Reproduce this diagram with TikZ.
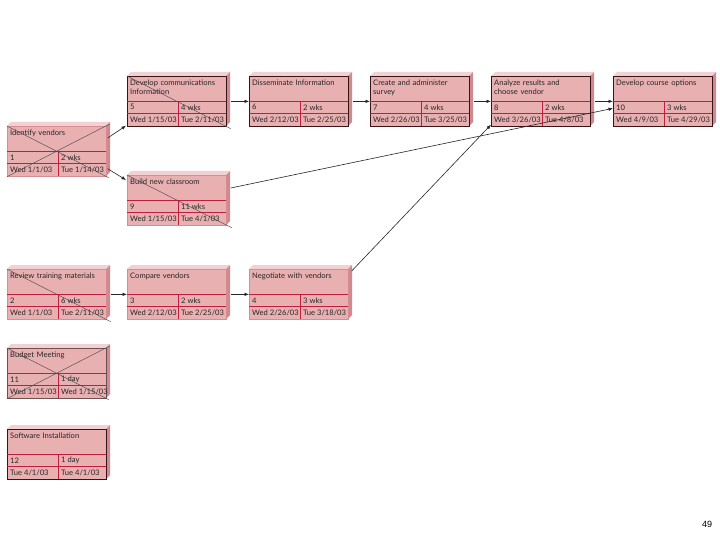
\documentclass[tikz,border=0pt]{standalone}
\usepackage{fontspec}
\setmainfont{Lato}
\newfontfamily\arialfont{Liberation Sans}
\usetikzlibrary{arrows.meta}
\definecolor{boxfill}{RGB}{233,176,178}
\definecolor{topcol}{RGB}{243,208,209}
\definecolor{sidecol}{RGB}{206,138,143}
\definecolor{sepcol}{RGB}{192,30,62}
\definecolor{critline}{RGB}{55,20,22}
\definecolor{midline}{RGB}{110,80,82}
\definecolor{normline}{RGB}{215,140,145}
\tikzset{
  taskbox/.style={rectangle, anchor=north west, minimum width=99pt, minimum height=50pt, inner sep=0pt, fill=boxfill, line width=0.7pt},
  crit/.style={draw=critline},
  midb/.style={draw=midline},
  norm/.style={draw=normline},
  topface/.style={fill=topcol},
  sideface/.style={fill=sidecol},
  sepline/.style={draw=sepcol, line width=0.6pt},
  titletext/.style={anchor=north west, inner sep=0pt, align=left, text width=96pt, font=\fontsize{7.6}{9}\selectfont, text=black!85},
  celltext/.style={anchor=west, inner sep=0pt, font=\fontsize{7.6}{9}\selectfont, text=black!85},
  conn/.style={draw=black!85, line width=0.6pt, -{Latex[length=4.5pt,width=3.5pt]}},
  crossline/.style={draw=black!70, line width=0.45pt}
}
\newcommand{\pertbox}[9]{%
  \begin{scope}[shift={(#2,#3)}]
    \fill[topface] (0,0) -- (4,-4) -- (103,-4) -- (99,0) -- cycle;
    \fill[sideface] (99,0) -- (103,-4) -- (103,46) -- (99,50) -- cycle;
    \node[taskbox,#4] (#1) at (0,0) {};
    \draw[sepline] (0.4,25) -- (98.6,25) (0.4,37) -- (98.6,37) (51,25) -- (51,49.6);
    \node[titletext] (#1t) at (3,4) {#5};
    \node[celltext] (#1i) at (3,31.3) {#6};
    \node[celltext] (#1d) at (54,31.3) {#7};
    \node[celltext] (#1s) at (3,43.5) {#8};
    \node[celltext] (#1e) at (54,43.5) {#9};
  \end{scope}}
\begin{document}
\begin{tikzpicture}[x=1pt,y=-1pt]
\fill[white] (0,0) rectangle (720,540);
\useasboundingbox (0,0) rectangle (720,540);

% top row
\pertbox{b5}{127}{76}{crit}{Develop communications\\Information}{5}{4 wks}{Wed 1/15/03}{Tue 2/11/03}
\pertbox{b6}{249}{76}{crit}{Disseminate Information}{6}{2 wks}{Wed 2/12/03}{Tue 2/25/03}
\pertbox{b7}{370}{76}{crit}{Create and administer\\survey}{7}{4 wks}{Wed 2/26/03}{Tue 3/25/03}
\pertbox{b8}{491}{76}{crit}{Analyze results and\\choose vendor}{8}{2 wks}{Wed 3/26/03}{Tue 4/8/03}
\pertbox{b10}{613}{76}{crit}{Develop course options}{10}{3 wks}{Wed 4/9/03}{Tue 4/29/03}

% second group
\pertbox{b1}{7}{126}{norm}{Identify vendors}{1}{2 wks}{Wed 1/1/03}{Tue 1/14/03}
\pertbox{b9}{127}{175}{norm}{Build new classroom}{9}{11 wks}{Wed 1/15/03}{Tue 4/1/03}

% third row
\pertbox{b2}{7}{269}{norm}{Review training materials}{2}{6 wks}{Wed 1/1/03}{Tue 2/11/03}
\pertbox{b3}{127}{269}{norm}{Compare vendors}{3}{2 wks}{Wed 2/12/03}{Tue 2/25/03}
\pertbox{b4}{249}{269}{norm}{Negotiate with vendors}{4}{3 wks}{Wed 2/26/03}{Tue 3/18/03}

% lone tasks
\pertbox{b11}{7}{348}{midb}{Budget Meeting}{11}{1 day}{Wed 1/15/03}{Wed 1/15/03}
\pertbox{b12}{7}{429}{crit}{Software Installation}{12}{1 day}{Tue 4/1/03}{Tue 4/1/03}

% cross-outs
\draw[crossline] (b5.north west) -- ([xshift=4pt,yshift=-2pt]b5.south east);
\draw[crossline] (b1.north west) -- ([xshift=2pt,yshift=-1pt]b1.south east);
\draw[crossline] (b1.south west) -- ([xshift=3pt,yshift=2pt]b1.north east);
\draw[crossline] (b9.north west) -- ([xshift=5pt,yshift=-2pt]b9.south east);
\draw[crossline] (b2.north west) -- ([xshift=4pt,yshift=-2pt]b2.south east);
\draw[crossline] (b11.north west) -- ([xshift=2pt,yshift=-1pt]b11.south east);
\draw[crossline] (b11.south west) -- ([xshift=3pt,yshift=2pt]b11.north east);

% connectors
\draw[conn] ([xshift=4pt]b5.east) -- (b6.west);
\draw[conn] ([xshift=4pt]b6.east) -- (b7.west);
\draw[conn] ([xshift=4pt]b7.east) -- (b8.west);
\draw[conn] ([xshift=4pt]b8.east) -- (b10.west);
\draw[conn] ([xshift=1pt,yshift=-12pt]b1.north east) -- ([xshift=-1pt,yshift=1pt]b5.south west);
\draw[conn] ([xshift=1pt,yshift=8pt]b1.south east) -- ([xshift=-1pt,yshift=-5pt]b9.north west);
\draw[conn] ([xshift=4pt,yshift=-13pt]b9.north east) -- ([yshift=-7pt]b10.west);
\draw[conn] ([xshift=3pt,yshift=-2pt]b4.north east) -- ([xshift=0pt,yshift=2pt]b8.south west);
\draw[conn] ([xshift=4pt]b2.east) -- (b3.west);
\draw[conn] ([xshift=4pt]b3.east) -- (b4.west);

% page number
\node[anchor=center, inner sep=0pt, font=\arialfont\fontsize{9}{10}\selectfont] (pg) at (707,524) {49};
\end{tikzpicture}
\end{document}
